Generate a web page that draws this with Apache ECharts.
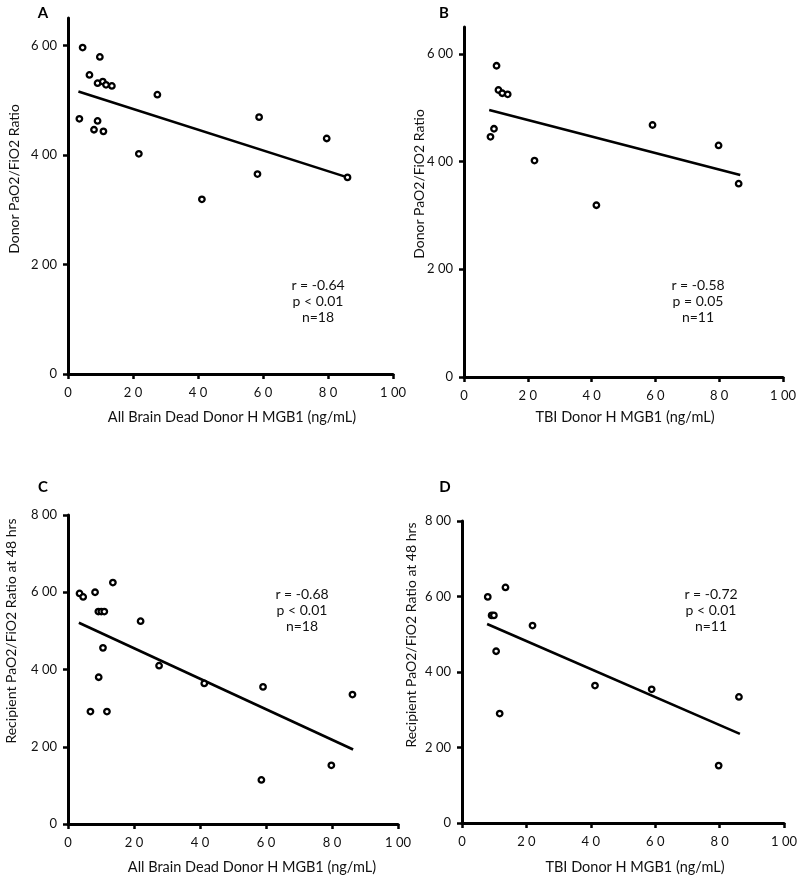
<!DOCTYPE html>
<html>
<head>
<meta charset="utf-8">
<script src="https://cdn.jsdelivr.net/npm/echarts@6/dist/echarts.min.js"></script>
<style>html,body{margin:0;padding:0;background:#fff}#c{width:800px;height:880px}</style>
</head>
<body>
<div id="c"></div>
<script>
// Panel A: all brain dead donors, donor PaO2/FiO2
const xA = [4.5, 9.8, 6.6, 9.1, 10.7, 11.7, 13.5, 27.5, 3.5, 9.1, 8.0, 10.9, 21.8, 41.2, 58.8, 58.3, 79.6, 86.0];
const yA = [596, 579, 546, 531, 534, 528, 526, 510, 466, 462, 446, 443, 402, 319, 469, 365, 430, 359];
const trendAx = [3.2, 86.0];
const trendAy = [516, 359];
// Panel B: TBI donors, donor PaO2/FiO2
const xB = [10.2, 10.8, 12.0, 13.7, 9.4, 8.3, 22.1, 41.5, 59.1, 79.8, 86.1];
const yB = [578, 533, 527, 525, 461, 446, 402, 319, 468, 430, 359];
const trendBx = [7.9, 86.6];
const trendBy = [496, 375];
// Panel C: all brain dead donors, recipient PaO2/FiO2 at 48 hrs
const xC = [3.5, 4.6, 8.2, 13.6, 9.2, 10.1, 11.0, 22.0, 10.6, 9.3, 6.8, 11.8, 27.6, 41.3, 59.1, 58.6, 79.8, 86.2];
const yC = [597, 588, 600, 625, 550, 550, 550, 525, 456, 380, 291, 291, 410, 364, 355, 114, 152, 335];
const trendCx = [3.3, 86.4];
const trendCy = [521, 193];
// Panel D: TBI donors, recipient PaO2/FiO2 at 48 hrs
const xD = [8.0, 13.5, 9.2, 9.9, 10.6, 11.7, 21.9, 41.3, 58.9, 79.7, 86.0];
const yD = [599, 624, 550, 550, 455, 290, 523, 364, 354, 152, 334];
const trendDx = [7.8, 86.3];
const trendDy = [527, 236];

const xTicks = [0, 20, 40, 60, 80, 100];
const xTickLabels = ['0', '2 0', '4 0', '6 0', '8 0', '1 00'];
const yTicksAB = [0, 200, 400, 600];
const yTickLabelsAB = ['0', '2 00', '4 00', '6 00'];
const yTicksCD = [0, 200, 400, 600, 800];
const yTickLabelsCD = ['0', '2 00', '4 00', '6 00', '8 00'];

const panelLetters = ['A', 'B', 'C', 'D'];
const xTitles = ['All Brain Dead Donor H MGB1 (ng/mL)', 'TBI Donor H MGB1 (ng/mL)', 'All Brain Dead Donor H MGB1 (ng/mL)', 'TBI Donor H MGB1 (ng/mL)'];
const yTitles = ['Donor PaO2/FiO2 Ratio', 'Donor PaO2/FiO2 Ratio', 'Recipient PaO2/FiO2 Ratio at 48 hrs', 'Recipient PaO2/FiO2 Ratio at 48 hrs'];
const statTexts = [
  ['r = -0.64', 'p < 0.01', 'n=18'],
  ['r = -0.58', 'p = 0.05', 'n=11'],
  ['r = -0.68', 'p < 0.01', 'n=18'],
  ['r = -0.72', 'p < 0.01', 'n=11']
];

const FONT = 'Lato, "Open Sans", sans-serif';
const zip = (a, b) => a.map((v, i) => [v, b[i]]);
const fmt = (ticks, labels) => v => { const i = ticks.indexOf(v); return i >= 0 ? labels[i] : ''; };

const grids = [
  {left: 68, top: 18, width: 325, height: 356},
  {left: 464, top: 27, width: 319, height: 350},
  {left: 68, top: 515, width: 330, height: 309},
  {left: 462, top: 521, width: 323, height: 302}
];
const yMax = [650, 650, 800, 800];

function xAxis(i) {
  return {
    type: 'value', gridIndex: i, min: 0, max: 100,
    axisLine: {show: true, onZero: false, lineStyle: {color: '#000', width: 3}},
    axisTick: {show: true, length: 5, lineStyle: {color: '#000', width: 2.5}, customValues: xTicks},
    axisLabel: {color: '#111', fontSize: 13, fontFamily: FONT, margin: 12, customValues: xTicks, formatter: fmt(xTicks, xTickLabels)},
    splitLine: {show: false}
  };
}
function yAxis(i) {
  const t = i < 2 ? yTicksAB : yTicksCD;
  const l = i < 2 ? yTickLabelsAB : yTickLabelsCD;
  return {
    type: 'value', gridIndex: i, min: 0, max: yMax[i],
    axisLine: {show: true, onZero: false, lineStyle: {color: '#000', width: 3}},
    axisTick: {show: true, length: 5, lineStyle: {color: '#000', width: 2.5}, customValues: t},
    axisLabel: {color: '#111', fontSize: 13, fontFamily: FONT, margin: 11, customValues: t, formatter: fmt(t, l)},
    splitLine: {show: false}
  };
}

const scatterSets = [zip(xA, yA), zip(xB, yB), zip(xC, yC), zip(xD, yD)];
const trendSets = [zip(trendAx, trendAy), zip(trendBx, trendBy), zip(trendCx, trendCy), zip(trendDx, trendDy)];

const series = [];
for (let i = 0; i < 4; i++) {
  series.push({
    type: 'line', xAxisIndex: i, yAxisIndex: i, data: trendSets[i],
    symbol: 'none', lineStyle: {color: '#000', width: 2.6}, silent: true, animation: false, z: 2
  });
  series.push({
    type: 'scatter', xAxisIndex: i, yAxisIndex: i, data: scatterSets[i],
    symbol: 'circle', symbolSize: 5.5,
    itemStyle: {color: '#fff', borderColor: '#000', borderWidth: 2.3, opacity: 1},
    animation: false, z: 3
  });
}

const letterPos = [[43, 13], [444, 13], [43, 487], [445, 487]];
const xTitlePos = [[232, 417], [625, 417], [252, 867], [635, 867]];
const yTitlePos = [[14, 179], [419, 184], [11, 631], [411, 635]];
const statPos = [[318, 285], [698, 285], [302, 594], [711, 594]];

const graphic = [];
for (let i = 0; i < 4; i++) {
  graphic.push({type: 'text', x: letterPos[i][0], y: letterPos[i][1],
    style: {text: panelLetters[i], font: 'bold 15px ' + FONT, fill: '#000', align: 'center', verticalAlign: 'middle'}});
  graphic.push({type: 'text', x: xTitlePos[i][0], y: xTitlePos[i][1],
    style: {text: xTitles[i], font: '14.5px ' + FONT, fill: '#111', align: 'center', verticalAlign: 'middle'}});
  graphic.push({type: 'text', x: yTitlePos[i][0], y: yTitlePos[i][1], rotation: Math.PI / 2,
    style: {text: yTitles[i], font: '14px ' + FONT, fill: '#111', align: 'center', verticalAlign: 'middle'}});
  statTexts[i].forEach((s, k) => {
    graphic.push({type: 'text', x: statPos[i][0], y: statPos[i][1] + k * 16,
      style: {text: s, font: '14px ' + FONT, fill: '#111', align: 'center', verticalAlign: 'middle'}});
  });
}

const chart = echarts.init(document.getElementById('c'), null, {renderer: 'canvas'});
chart.setOption({
  backgroundColor: '#fff',
  animation: false,
  grid: grids,
  xAxis: [0, 1, 2, 3].map(xAxis),
  yAxis: [0, 1, 2, 3].map(yAxis),
  series: series,
  graphic: graphic
});
</script>
</body>
</html>
